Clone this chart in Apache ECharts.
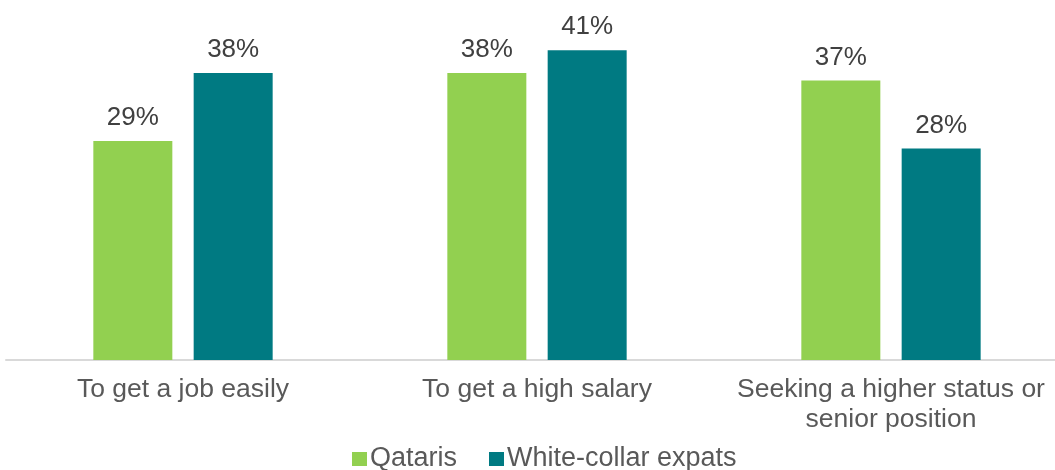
<!DOCTYPE html>
<html>
<head>
<meta charset="utf-8">
<script src="https://cdn.jsdelivr.net/npm/echarts@6/dist/echarts.min.js"></script>
<style>
  html, body { margin: 0; padding: 0; background: #fff; }
  #chart { width: 1055px; height: 470px; }
</style>
</head>
<body>
<div id="chart"></div>
<script>
const categories = ["To get a job easily", "To get a high salary", "Seeking a higher status or\nsenior position"];
const qataris = [29, 38, 37];
const expats = [38, 41, 28];
const seriesNames = ["Qataris", "White-collar expats"];

const chart = echarts.init(document.getElementById("chart"));

const labelStyle = {
  show: true,
  position: "top",
  distance: 10,
  formatter: "{c}%",
  color: "#404040",
  fontSize: 26,
  fontFamily: "Liberation Sans, Arial, sans-serif",
};

chart.setOption({
  animation: false,
  grid: { left: 6, width: 1062, top: 20, height: 340, containLabel: false, outerBoundsMode: "none" },
  legend: {
    data: seriesNames,
    top: 440,
    left: 347,
    itemWidth: 15,
    itemHeight: 14,
    itemGap: 32,
    icon: "rect",
    textStyle: { color: "#595959", fontSize: 27, lineHeight: 28, fontFamily: "Liberation Sans, Arial, sans-serif", padding: [0, 0, 0, -2] },
  },
  xAxis: {
    type: "category",
    data: categories,
    axisLine: { lineStyle: { color: "#d9d9d9", width: 2 } },
    axisTick: { show: false },
    axisLabel: {
      color: "#595959",
      fontSize: 26.5,
      lineHeight: 30,
      margin: 15,
      interval: 0,
      fontFamily: "Liberation Sans, Arial, sans-serif",
    },
  },
  yAxis: {
    type: "value",
    min: 0,
    max: 45,
    show: false,
    splitLine: { show: false },
  },
  series: [
    {
      name: seriesNames[0],
      type: "bar",
      data: qataris,
      barWidth: 79,
      barGap: "27%",
      itemStyle: { color: "#92d050" },
      label: labelStyle,
    },
    {
      name: seriesNames[1],
      type: "bar",
      data: expats,
      barWidth: 79,
      barGap: "27%",
      itemStyle: { color: "#007a82" },
      label: labelStyle,
    },
  ],
});
</script>
</body>
</html>
